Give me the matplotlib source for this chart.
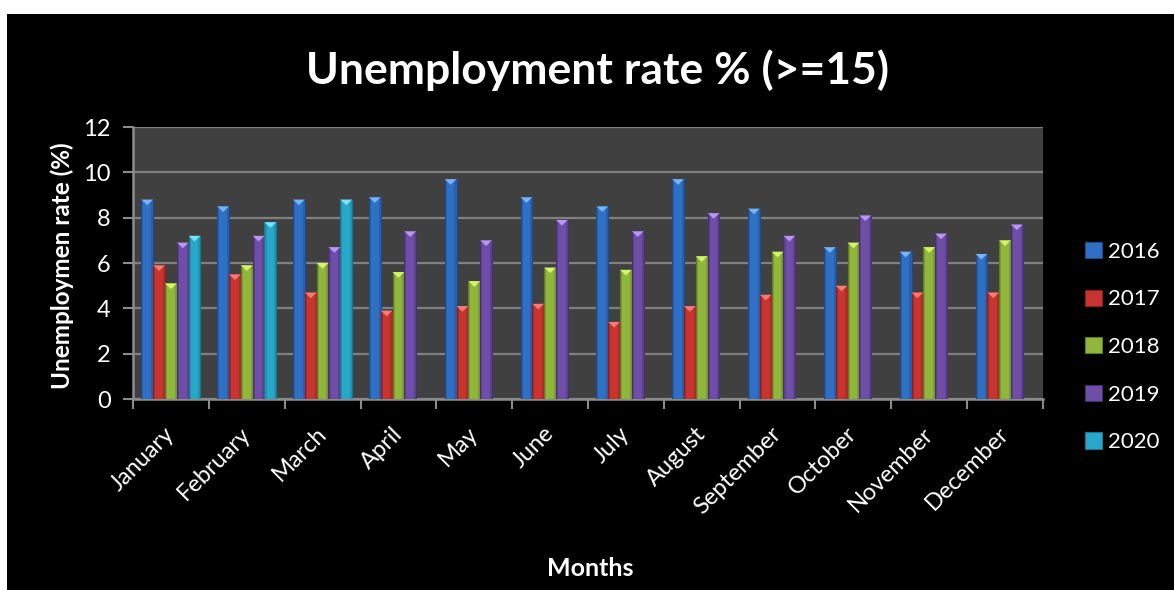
import matplotlib
matplotlib.use("Agg")
import matplotlib.pyplot as plt
import matplotlib.transforms as mtransforms
import numpy as np
from matplotlib.patches import Rectangle, Polygon

months = ["January", "February", "March", "April", "May", "June", "July",
          "August", "September", "October", "November", "December"]
years = ["2016", "2017", "2018", "2019", "2020"]
v2016 = [8.8, 8.5, 8.8, 8.9, 9.7, 8.9, 8.5, 9.7, 8.4, 6.7, 6.5, 6.4]
v2017 = [5.9, 5.5, 4.7, 3.9, 4.1, 4.2, 3.4, 4.1, 4.6, 5.0, 4.7, 4.7]
v2018 = [5.1, 5.9, 6.0, 5.6, 5.2, 5.8, 5.7, 6.3, 6.5, 6.9, 6.7, 7.0]
v2019 = [6.9, 7.2, 6.7, 7.4, 7.0, 7.9, 7.4, 8.2, 7.2, 8.1, 7.3, 7.7]
v2020 = [7.2, 7.8, 8.8]
series = [v2016, v2017, v2018, v2019, v2020]

base_colors = ["#3070c4", "#c83430", "#90b63c", "#6e4ea6", "#28a8c8"]
edge_colors = ["#1d4a8a", "#8a1f1c", "#5f7d22", "#47306f", "#1a7590"]
tip_colors = ["#7ab2f2", "#f27c78", "#d6f46a", "#b898ee", "#78e4f4"]

plt.rcParams['font.family'] = ['Lato', 'DejaVu Sans']

W, H = 1174, 590
fig = plt.figure(figsize=(W / 100, H / 100), dpi=100, facecolor="white")
fig.patches.append(Rectangle((7 / W, 0), 1 - 7 / W, 1 - 14 / H,
                             transform=fig.transFigure, facecolor="black",
                             edgecolor="none", zorder=-10))

ax = fig.add_axes([133 / W, 191 / H, 910 / W, 272 / H])
ax.set_facecolor("#404040")

n = len(series)
group = 0.78
bw = group / n
x = np.arange(len(months))
for i, (vals, c, ec, tc, lab) in enumerate(zip(series, base_colors, edge_colors, tip_colors, years)):
    xs = x[:len(vals)] - group / 2 + bw * (i + 0.5)
    bars = ax.bar(xs, vals, width=bw, color=c, edgecolor=ec, linewidth=0.8,
                  label=lab, zorder=3)
    for p in bars.patches:
        x0 = p.get_x()
        w = p.get_width()
        h = p.get_height()
        ax.add_patch(Rectangle((x0, 0), w * 0.18, h, facecolor=ec, alpha=0.4,
                               edgecolor="none", zorder=4))
        ax.add_patch(Rectangle((x0 + w * 0.82, 0), w * 0.18, h, facecolor=ec, alpha=0.4,
                               edgecolor="none", zorder=4))
        ax.add_patch(Polygon([[x0, h], [x0 + w, h], [x0 + w / 2, h - 0.25]],
                             closed=True, facecolor=tc, edgecolor="none", zorder=5))

ax.set_xlim(-0.5, len(months) - 0.5)
ax.set_ylim(0, 12)
ax.set_yticks(np.arange(0, 13, 2))
ax.yaxis.grid(True, color="#808080", linewidth=1.6, zorder=0)
ax.set_axisbelow(True)

# month labels (rotated), placed under each category
ax.set_xticks(x)
ax.set_xticklabels([])
ax.tick_params(axis="x", which="major", length=0)
lab_trans = mtransforms.offset_copy(
    mtransforms.blended_transform_factory(ax.transData, ax.transAxes),
    fig=fig, x=-7, y=-24, units="dots")
for xi, m in zip(x, months):
    ax.text(xi, 0, m, transform=lab_trans, rotation=45, ha="right", va="top",
            rotation_mode="anchor", color="white", fontsize=17, clip_on=False)

ax.set_xticks(np.arange(-0.5, len(months)), minor=True)
ax.tick_params(axis="x", which="minor", length=7, width=1.5, color="#8c8c8c", direction="out")
ax.tick_params(axis="y", length=7, width=1.5, color="#8c8c8c", direction="out",
               labelcolor="white", labelsize=17, pad=9)

for s in ["top", "right"]:
    ax.spines[s].set_visible(False)
for s in ["left", "bottom"]:
    ax.spines[s].set_color("#8c8c8c")
    ax.spines[s].set_linewidth(1.8)

ax.set_ylabel("Unemploymen rate (%)", color="white", fontsize=17.5, fontweight="bold",
              va="center")
ax.yaxis.set_label_coords((62 - 133) / 910, (399 - 266) / 272)
ax.set_xlabel("Months", color="white", fontsize=18, fontweight="bold", va="center")
ax.xaxis.set_label_coords((590 - 133) / 910, (399 - 568) / 272)

fig.text(597 / W, 1 - 70 / H, "Unemployment rate % (>=15)", color="white",
         fontsize=32, fontweight="bold", ha="center", va="center")

leg = fig.legend(loc="center left", bbox_to_anchor=(1085 / W, 1 - 347 / H),
                 frameon=False, fontsize=16, labelcolor="white",
                 handlelength=0.75, handleheight=0.75, handletextpad=0.3,
                 labelspacing=1.24, borderpad=0, borderaxespad=0)

fig.savefig("out.png", dpi=100, facecolor=fig.get_facecolor())
